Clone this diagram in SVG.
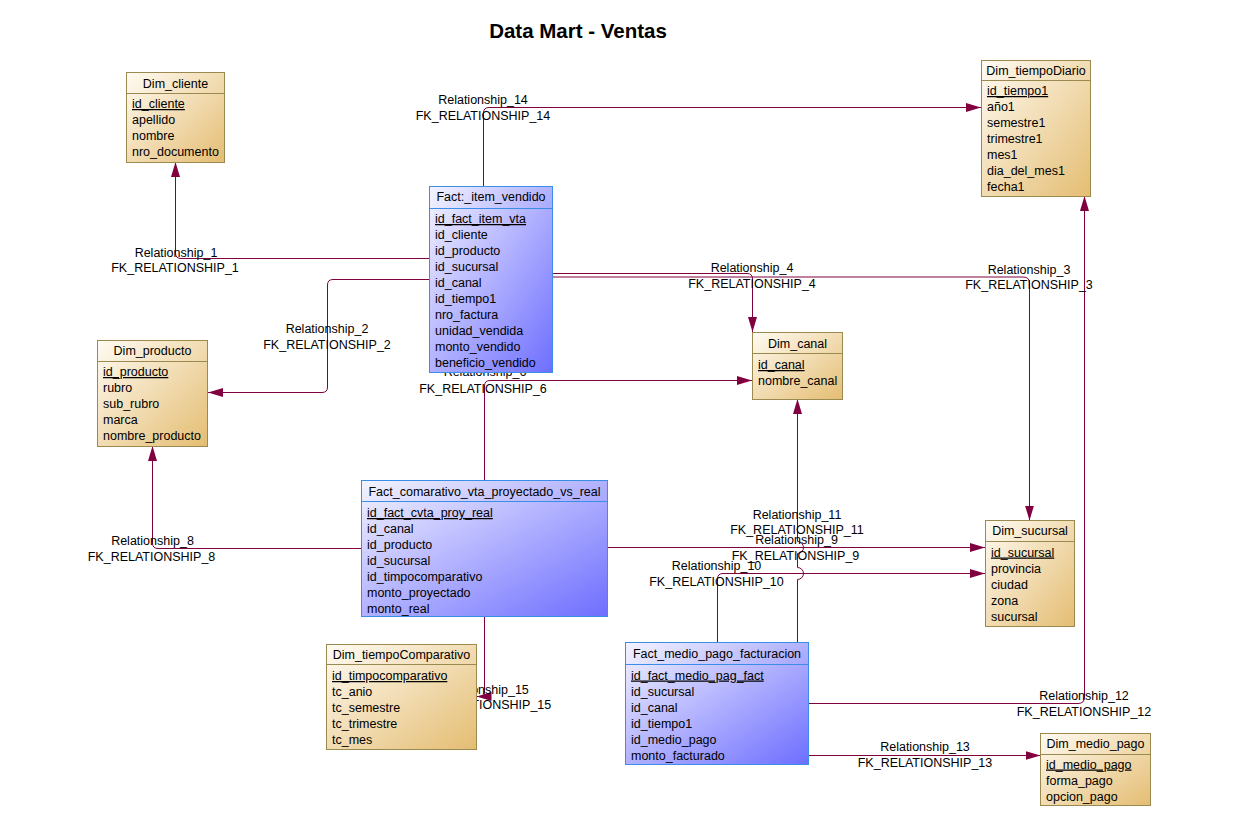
<svg xmlns="http://www.w3.org/2000/svg" width="1257" height="822" viewBox="0 0 1257 822">
<style>
text{font-family:"Liberation Sans",Arial,sans-serif;font-size:12.5px;fill:#000}
.title{font-size:20.5px;font-weight:bold;text-anchor:middle}
.lbl{text-anchor:middle}
.hd{text-anchor:middle}
.pk{text-decoration:underline}
.dim{fill:url(#gDim);stroke:#9a8a50;stroke-width:1}
.dimL{stroke:#9a8a50;stroke-width:1}
.fact{fill:url(#gFact);stroke:#3a8ee8;stroke-width:1}
.factL{stroke:#3a8ee8;stroke-width:1}
.con{fill:none;stroke:#800040;stroke-width:1}
.arr{marker-end:url(#arr)}
</style>
<defs>
<linearGradient id="gDim" x1="0" y1="0" x2="1" y2="1">
<stop offset="0" stop-color="#fffbf3"/>
<stop offset="1" stop-color="#e4bd72"/>
</linearGradient>
<linearGradient id="gFact" x1="0" y1="0" x2="1" y2="1">
<stop offset="0" stop-color="#f4f4ff"/>
<stop offset="1" stop-color="#6e6eff"/>
</linearGradient>
<marker id="arr" markerWidth="16" markerHeight="10" refX="15" refY="4.5" orient="auto" markerUnits="userSpaceOnUse">
<path d="M0,0 L15,4.5 L0,9 z" fill="#800040"/>
</marker>
</defs>
<rect width="1257" height="822" fill="#ffffff"/>
<text class="title" x="578" y="38">Data Mart - Ventas</text>

<g id="connectors">
<path id="rel1" class="con arr" d="M429,258.5 H181 Q175.5,258.5 175.5,253 V162"/>
<path id="rel2" class="con arr" d="M429,279.5 H333 Q327.5,279.5 327.5,285 V387 Q327.5,392.5 322,392.5 H208"/>
<path id="rel14" class="con arr" d="M483.5,186 V113 Q483.5,107.5 489,107.5 H981"/>
<path id="rel4" class="con arr" d="M552,273.5 H747 Q752.5,273.5 752.5,279 V332"/>
<path id="rel3" class="con arr" d="M552,277 H1023 Q1029.5,277 1029.5,283 V520.5"/>
<path id="rel6" class="con arr" d="M484.5,480.5 V386 Q484.5,380.5 490,380.5 H752"/>
<path id="rel15" class="con arr" d="M484.5,617 V692 Q484.5,696.5 480,696.5 H476.5"/>
<path id="rel8" class="con arr" d="M361.5,548.5 H158 Q152.5,548.5 152.5,543 V446"/>
<path id="rel9" class="con arr" d="M607.5,547.5 H985"/>
<path id="rel10" class="con arr" d="M717.5,642.5 V579 Q717.5,573.5 723,573.5 H985"/>
<path id="rel11" class="con arr" d="M797.5,642.5 V579.5 A6,6 0 0 0 797.5,567.5 V553.5 A6,6 0 0 0 797.5,541.5 V399"/>
<path id="rel12" class="con arr" d="M808,703.5 H1078 Q1084.5,703.5 1084.5,697 V196"/>
<path id="rel13" class="con arr" d="M808,755.5 H1040.5"/>
<text class="lbl" x="176" y="256.5">Relationship_1</text>
<text class="lbl" x="175" y="272">FK_RELATIONSHIP_1</text>
<text class="lbl" x="327" y="333">Relationship_2</text>
<text class="lbl" x="327" y="348.5">FK_RELATIONSHIP_2</text>
<text class="lbl" x="483" y="104">Relationship_14</text>
<text class="lbl" x="483" y="119.5">FK_RELATIONSHIP_14</text>
<text class="lbl" x="752" y="272">Relationship_4</text>
<text class="lbl" x="752" y="288">FK_RELATIONSHIP_4</text>
<text class="lbl" x="1029" y="274">Relationship_3</text>
<text class="lbl" x="1029" y="289">FK_RELATIONSHIP_3</text>
<text class="lbl" x="485" y="376">Relationship_6</text>
<text class="lbl" x="483" y="393">FK_RELATIONSHIP_6</text>
<text class="lbl" x="484" y="693.5">Relationship_15</text>
<text class="lbl" x="484" y="709">FK_RELATIONSHIP_15</text>
<text class="lbl" x="152.5" y="545">Relationship_8</text>
<text class="lbl" x="151.5" y="561">FK_RELATIONSHIP_8</text>
<text class="lbl" x="797" y="518.5">Relationship_11</text>
<text class="lbl" x="797" y="534">FK_RELATIONSHIP_11</text>
<text class="lbl" x="796.5" y="544">Relationship_9</text>
<text class="lbl" x="795.5" y="559.5">FK_RELATIONSHIP_9</text>
<text class="lbl" x="716.5" y="570">Relationship_10</text>
<text class="lbl" x="716.5" y="585.5">FK_RELATIONSHIP_10</text>
<text class="lbl" x="1084" y="699.5">Relationship_12</text>
<text class="lbl" x="1084" y="715.5">FK_RELATIONSHIP_12</text>
<text class="lbl" x="925" y="751">Relationship_13</text>
<text class="lbl" x="925" y="767">FK_RELATIONSHIP_13</text>
</g>

<g id="Dim_cliente">
<rect class="dim" x="126.5" y="72.5" width="98" height="90"/>
<line class="dimL" x1="126.5" y1="93.5" x2="224.5" y2="93.5"/>
<text class="hd" x="175.5" y="88">Dim_cliente</text>
<text class="pk" x="132" y="108">id_cliente</text>
<text x="132" y="124">apellido</text>
<text x="132" y="140">nombre</text>
<text x="132" y="156">nro_documento</text>
</g>

<g id="Fact_item_vendido">
<rect class="fact" x="429.5" y="186.5" width="123" height="186"/>
<line class="factL" x1="429.5" y1="208.5" x2="552.5" y2="208.5"/>
<text class="hd" x="491" y="201">Fact:_item_vendido</text>
<text class="pk" x="435" y="223">id_fact_item_vta</text>
<text x="435" y="239">id_cliente</text>
<text x="435" y="255">id_producto</text>
<text x="435" y="271">id_sucursal</text>
<text x="435" y="287">id_canal</text>
<text x="435" y="303">id_tiempo1</text>
<text x="435" y="319">nro_factura</text>
<text x="435" y="335">unidad_vendida</text>
<text x="435" y="351">monto_vendido</text>
<text x="435" y="367">beneficio_vendido</text>
</g>

<g id="Dim_tiempoDiario">
<rect class="dim" x="981.5" y="60.5" width="109" height="136"/>
<line class="dimL" x1="981.5" y1="80.5" x2="1090.5" y2="80.5"/>
<text class="hd" x="1036" y="74.5">Dim_tiempoDiario</text>
<text class="pk" x="987" y="95">id_tiempo1</text>
<text x="987" y="111">año1</text>
<text x="987" y="127">semestre1</text>
<text x="987" y="143">trimestre1</text>
<text x="987" y="159">mes1</text>
<text x="987" y="175">dia_del_mes1</text>
<text x="987" y="191">fecha1</text>
</g>

<g id="Dim_canal">
<rect class="dim" x="752.5" y="332.5" width="90" height="67"/>
<line class="dimL" x1="752.5" y1="353.5" x2="842.5" y2="353.5"/>
<text class="hd" x="797.5" y="348">Dim_canal</text>
<text class="pk" x="758" y="369">id_canal</text>
<text x="758" y="385">nombre_canal</text>
</g>

<g id="Dim_producto">
<rect class="dim" x="97.5" y="340.5" width="110" height="106"/>
<line class="dimL" x1="97.5" y1="361.5" x2="207.5" y2="361.5"/>
<text class="hd" x="152.5" y="355">Dim_producto</text>
<text class="pk" x="103" y="376">id_producto</text>
<text x="103" y="392">rubro</text>
<text x="103" y="408">sub_rubro</text>
<text x="103" y="424">marca</text>
<text x="103" y="440">nombre_producto</text>
</g>

<g id="Fact_comarativo_vta_proyectado_vs_real">
<rect class="fact" x="361.5" y="480.5" width="246" height="136"/>
<line class="factL" x1="361.5" y1="501.5" x2="607.5" y2="501.5"/>
<text class="hd" x="484.5" y="495.5">Fact_comarativo_vta_proyectado_vs_real</text>
<text class="pk" x="367" y="517">id_fact_cvta_proy_real</text>
<text x="367" y="533">id_canal</text>
<text x="367" y="549">id_producto</text>
<text x="367" y="565">id_sucursal</text>
<text x="367" y="581">id_timpocomparativo</text>
<text x="367" y="597">monto_proyectado</text>
<text x="367" y="613">monto_real</text>
</g>

<g id="Dim_sucursal">
<rect class="dim" x="985.5" y="520.5" width="89" height="106"/>
<line class="dimL" x1="985.5" y1="541.5" x2="1074.5" y2="541.5"/>
<text class="hd" x="1030" y="535">Dim_sucursal</text>
<text class="pk" x="991" y="556.5">id_sucursal</text>
<text x="991" y="572.5">provincia</text>
<text x="991" y="588.5">ciudad</text>
<text x="991" y="604.5">zona</text>
<text x="991" y="620.5">sucursal</text>
</g>

<g id="Dim_tiempoComparativo">
<rect class="dim" x="326.5" y="644.5" width="150" height="105"/>
<line class="dimL" x1="326.5" y1="664.5" x2="476.5" y2="664.5"/>
<text class="hd" x="401.5" y="659">Dim_tiempoComparativo</text>
<text class="pk" x="332" y="680">id_timpocomparativo</text>
<text x="332" y="696">tc_anio</text>
<text x="332" y="712">tc_semestre</text>
<text x="332" y="728">tc_trimestre</text>
<text x="332" y="744">tc_mes</text>
</g>

<g id="Fact_medio_pago_facturacion">
<rect class="fact" x="625.5" y="642.5" width="183" height="122"/>
<line class="factL" x1="625.5" y1="664.5" x2="808.5" y2="664.5"/>
<text class="hd" x="717" y="658">Fact_medio_pago_facturacion</text>
<text class="pk" x="631" y="679.5">id_fact_medio_pag_fact</text>
<text x="631" y="695.5">id_sucursal</text>
<text x="631" y="711.5">id_canal</text>
<text x="631" y="727.5">id_tiempo1</text>
<text x="631" y="743.5">id_medio_pago</text>
<text x="631" y="759.5">monto_facturado</text>
</g>

<g id="Dim_medio_pago">
<rect class="dim" x="1040.5" y="733.5" width="110" height="72"/>
<line class="dimL" x1="1040.5" y1="754.5" x2="1150.5" y2="754.5"/>
<text class="hd" x="1095.5" y="748">Dim_medio_pago</text>
<text class="pk" x="1046" y="768.5">id_medio_pago</text>
<text x="1046" y="784.5">forma_pago</text>
<text x="1046" y="800.5">opcion_pago</text>
</g>
</svg>
